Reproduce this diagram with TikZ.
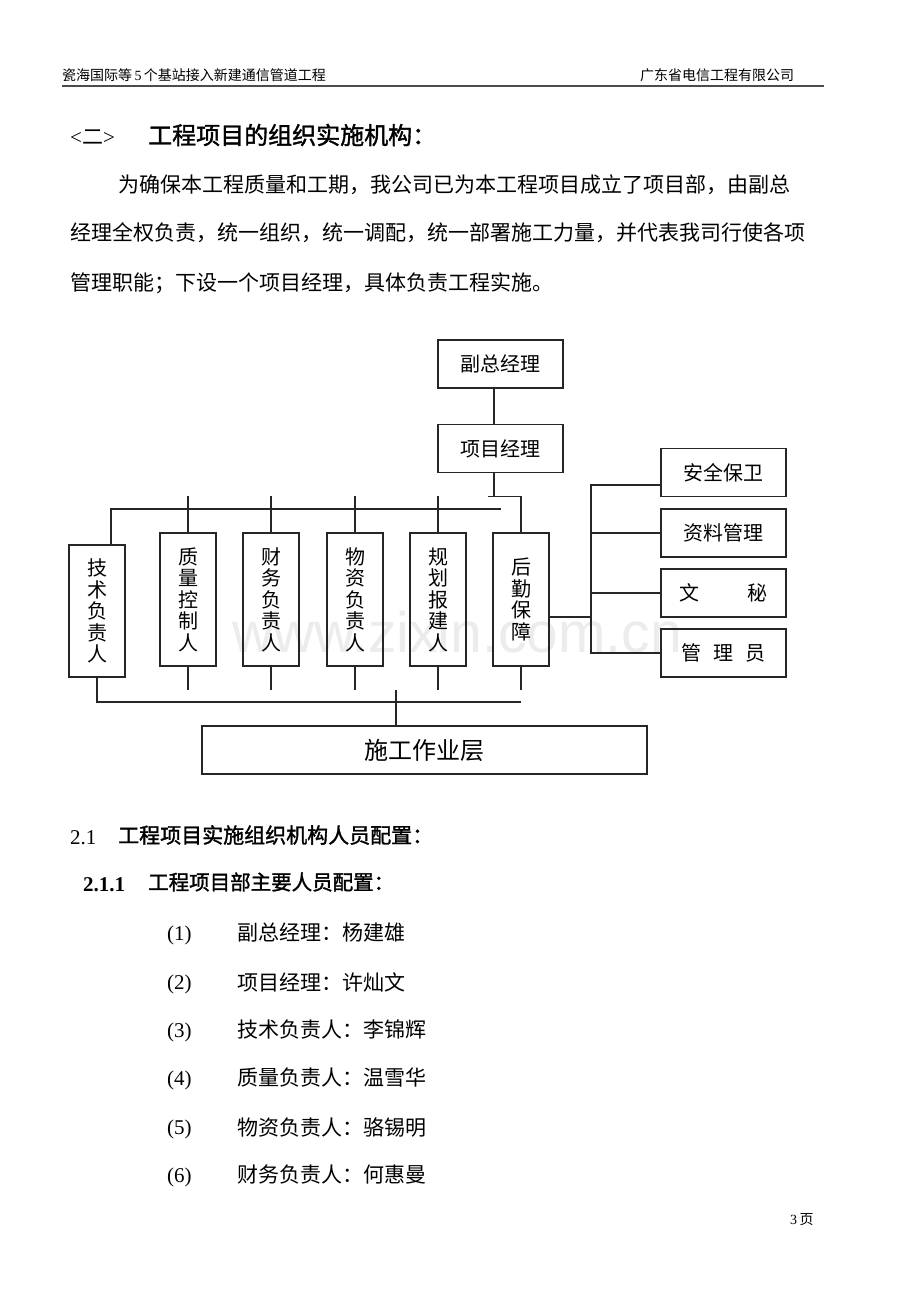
\documentclass[tikz,border=0pt]{standalone}
\usepackage{fontspec}
\setmainfont{Liberation Serif}
\newfontfamily\cjk{Noto Sans CJK SC}
\newfontfamily\cjkb[FakeBold=1.5]{Noto Sans CJK SC}
\newfontfamily\wmfont{Liberation Sans}
\XeTeXlinebreaklocale "zh"
\XeTeXlinebreakskip=0pt plus 1fil
\begin{document}
\begin{tikzpicture}[x=1pt,y=-1pt,
  ln/.style={line width=1.1pt, draw=black!85},
  box/.style={draw=black!85, line width=1.1pt, inner sep=0pt, align=center, font=\fontsize{20}{21.5}\selectfont\cjk},
  hbx/.style={box, minimum width=125pt, minimum height=48pt},
  vbx/.style={box, minimum width=56pt, minimum height=133pt},
  txt/.style={anchor=west, inner sep=0pt},
  body/.style={txt, font=\fontsize{21}{21}\selectfont\cjk},
  num/.style={txt, yshift=-2.5pt, font=\fontsize{21}{21}\selectfont}]
\fill[white] (0,0) rectangle (920,1302);
\useasboundingbox (0,0) rectangle (920,1302);
% watermark
\node[font=\fontsize{57}{57}\selectfont\wmfont, text=gray!15, inner sep=0pt, anchor=base] (wm) at (457,652) {www.zixin.com.cn};
% header
\node[txt, font=\fontsize{14}{14}\selectfont\cjk] (h1) at (62,75) {瓷海国际等\,{\rmfamily 5}\,个基站接入新建通信管道工程};
\node[txt, font=\fontsize{14}{14}\selectfont\cjk] (h2) at (640,75) {广东省电信工程有限公司};
\coordinate (rl) at (62,86); \coordinate (rr) at (824,86);
\draw[line width=1.6pt, black!70] (rl) -- (rr);
% heading
\node[num] (sec) at (70,135) {<\cjk 二\rmfamily >};
\node[txt, font=\fontsize{24}{24}\selectfont\cjkb] (sect) at (148,135) {工程项目的组织实施机构：};
% paragraph
\node[body] (p1) at (118,185) {\makebox[706pt][s]{为确保本工程质量和工期，我公司已为本工程项目成立了项目部，由副总}};
\node[body] (p2) at (70,233) {\makebox[754pt][s]{经理全权负责，统一组织，统一调配，统一部署施工力量，并代表我司行使各项}};
\node[body] (p3) at (70,283) {管理职能；下设一个项目经理，具体负责工程实施。};
% chart boxes
\node[hbx] (vp) at (500.5,364) {副总经理};
\node[hbx] (pm) at (500.5,448.5) {项目经理};
\node[vbx, minimum height=132pt] (js) at (97,611) {技\\术\\负\\责\\人};
\node[vbx] (zl) at (188,599.5) {质\\量\\控\\制\\人};
\node[vbx] (cw) at (271,599.5) {财\\务\\负\\责\\人};
\node[vbx] (wz) at (355,599.5) {物\\资\\负\\责\\人};
\node[vbx] (gh) at (438,599.5) {规\\划\\报\\建\\人};
\node[vbx] (hq) at (521,599.5) {后\\勤\\保\\障};
\node[hbx] (aq) at (723.5,472.5) {安全保卫};
\node[hbx] (zg) at (723.5,533) {资料管理};
\node[hbx] (ws) at (723.5,593) {\makebox[88pt]{文\hfill 秘}};
\node[hbx] (gy) at (723.5,653) {\makebox[84pt]{管\hfill 理\hfill 员}};
\node[box, minimum width=445pt, minimum height=48pt, font=\fontsize{24}{26}\selectfont\cjk] (sg) at (424.5,750) {施工作业层};
% connectors
\draw[ln] ([xshift=-6.5pt]vp.south) -- ([xshift=-6.5pt]pm.north);
\draw[ln] ([xshift=-6.5pt]pm.south) -- ++(0,23.5) coordinate (pmj);
\draw[ln] (pmj) ++(-6,0) -- (hq.north |- pmj) -- (hq.north);
\coordinate (busL) at (111,509); \coordinate (busR) at (501,509);
\draw[ln] (busL |- js.north) -- (busL) -- (busR);
\foreach \n in {zl,cw,wz,gh} \draw[ln] (\n.north) -- ++(0,-36);
\coordinate (bb) at (0,702);
\draw[ln] (js.south) -- (js.south |- bb) -- (hq.south |- bb);
\foreach \n in {zl,cw,wz,gh,hq} \draw[ln] (\n.south) -- ++(0,23);
\coordinate (sgc) at (396,690);
\draw[ln] (sgc) -- (sgc |- sg.north);
\coordinate (rb) at (591,485);
\coordinate (hqe) at ([yshift=-17.5pt]hq.east);
\draw[ln] (hqe) -- (rb |- hqe);
\draw[ln] (rb -| aq.west) -- (rb) -- (rb |- gy.west) -- (gy.west);
\draw[ln] (rb |- zg.west) -- (zg.west);
\draw[ln] (rb |- ws.west) -- (ws.west);
% section 2.1
\node[num] (s21) at (70,835) {2.1};
\node[txt, font=\fontsize{21}{21}\selectfont\cjkb] (s21t) at (118,835) {工程项目实施组织机构人员配置：};
\node[num, font=\fontsize{21}{21}\selectfont\bfseries] (s211) at (83,882) {2.1.1};
\node[txt, font=\fontsize{20.5}{20.5}\selectfont\cjkb] (s211t) at (148,882) {工程项目部主要人员配置：};
% list
\node[num] (n1) at (167,933) {(1)}; \node[body] (t1) at (237,933) {副总经理：杨建雄};
\node[num] (n2) at (167,982) {(2)}; \node[body] (t2) at (237,982) {项目经理：许灿文};
\node[num] (n3) at (167,1030) {(3)}; \node[body] (t3) at (237,1030) {技术负责人：李锦辉};
\node[num] (n4) at (167,1078) {(4)}; \node[body] (t4) at (237,1078) {质量负责人：温雪华};
\node[num] (n5) at (167,1127) {(5)}; \node[body] (t5) at (237,1127) {物资负责人：骆锡明};
\node[num] (n6) at (167,1175) {(6)}; \node[body] (t6) at (237,1175) {财务负责人：何惠曼};
% page number
\node[txt, font=\fontsize{14}{14}\selectfont] (pg) at (790,1220) {3\,{\cjk 页}};
\end{tikzpicture}
\end{document}
